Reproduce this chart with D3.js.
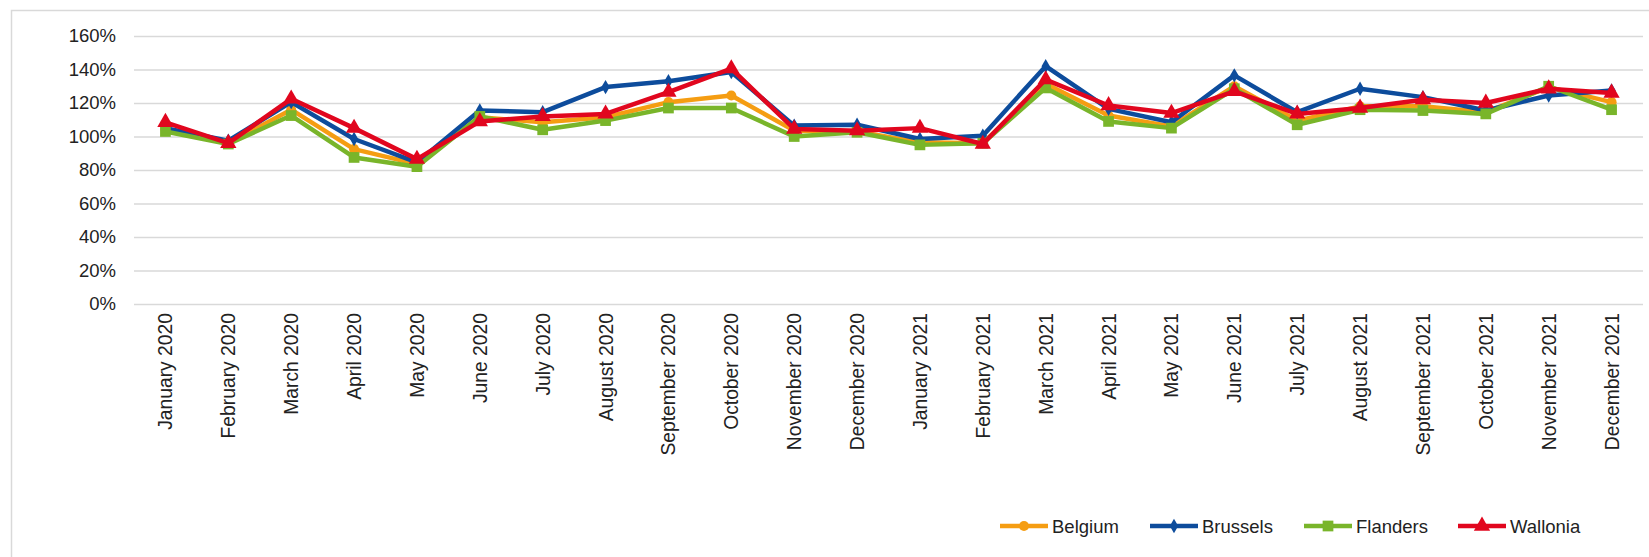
<!DOCTYPE html>
<html><head><meta charset="utf-8">
<script src="https://cdn.jsdelivr.net/npm/d3@7/dist/d3.min.js"></script>
<style>
html,body{margin:0;padding:0;background:#fff;}
svg text{font-family:"Liberation Sans",Arial,sans-serif;fill:#222;}
</style></head>
<body><svg id="c" width="1649" height="557"></svg>
<script>
const months = ["January 2020","February 2020","March 2020","April 2020","May 2020","June 2020","July 2020","August 2020","September 2020","October 2020","November 2020","December 2020","January 2021","February 2021","March 2021","April 2021","May 2021","June 2021","July 2021","August 2021","September 2021","October 2021","November 2021","December 2021"];
const belgium  = [1.045,0.96,1.16,0.925,0.835,1.115,1.085,1.115,1.205,1.245,1.035,1.03,0.965,0.96,1.315,1.125,1.06,1.30,1.095,1.18,1.18,1.145,1.295,1.205];
const brussels = [1.05,0.975,1.205,0.985,0.845,1.155,1.145,1.295,1.33,1.385,1.065,1.07,0.985,1.005,1.42,1.165,1.085,1.365,1.145,1.285,1.235,1.155,1.245,1.275];
const flanders = [1.03,0.955,1.125,0.875,0.82,1.12,1.04,1.095,1.17,1.17,1.00,1.025,0.95,0.96,1.29,1.09,1.05,1.285,1.07,1.16,1.155,1.135,1.30,1.16];
const wallonia = [1.085,0.96,1.225,1.05,0.865,1.09,1.12,1.135,1.265,1.405,1.045,1.035,1.05,0.955,1.34,1.185,1.14,1.27,1.135,1.17,1.22,1.20,1.285,1.26];
const yTicks = [0,0.2,0.4,0.6,0.8,1.0,1.2,1.4,1.6];
const seriesNames = ["Belgium","Brussels","Flanders","Wallonia"];
const seriesColors = ["#F59D12","#0D4C9C","#79B52A","#E1061E"];
const seriesSymbols = [d3.symbolCircle, d3.symbolDiamond, d3.symbolSquare, d3.symbolTriangle];
const symbolSizes = [80, 60, 115, 115];
const seriesValues = [belgium, brussels, flanders, wallonia];

const svg = d3.select("#c");
// outer frame
svg.append("rect").attr("x",11.5).attr("y",10.5).attr("width",1700).attr("height",700)
  .attr("fill","none").attr("stroke","#d9d9d9").attr("stroke-width",1.5);

const L=134, R=1643, T=36, B=304;
const x = d3.scaleBand().domain(months).range([L,R]);
const y = d3.scaleLinear().domain([0,1.6]).range([B,T]);

// grid
const yAxis = d3.axisLeft(y).tickValues(yTicks).tickFormat(d3.format(".0%")).tickSize(-(R-L)).tickPadding(18);
const gy = svg.append("g").attr("transform",`translate(${L},0)`).call(yAxis);
gy.select(".domain").remove();
gy.selectAll(".tick line").attr("stroke","#d9d9d9").attr("stroke-width",1.6);
gy.selectAll(".tick text").style("font-size","18.5px").attr("fill","#222");

// x labels
const xAxis = d3.axisBottom(x).tickSize(0).tickPadding(0);
const gx = svg.append("g").attr("transform",`translate(0,${B})`).call(xAxis);
gx.select(".domain").remove();
gx.selectAll(".tick text").style("font-size","19.3px").attr("fill","#222")
  .attr("text-anchor","end").attr("transform","translate(0,9) rotate(-90)")
  .attr("x",0).attr("y",0).attr("dy","0.36em");

const line = d3.line().x((d,i)=>x(months[i])+x.bandwidth()/2).y(d=>y(d));
seriesValues.forEach((vals,si)=>{
  const g = svg.append("g");
  g.append("path").datum(vals).attr("d",line).attr("fill","none")
    .attr("stroke",seriesColors[si]).attr("stroke-width",4.5).attr("stroke-linejoin","round");
  g.selectAll("path.m").data(vals).join("path").attr("class","m")
    .attr("d",d3.symbol().type(seriesSymbols[si]).size(symbolSizes[si]))
    .attr("transform",(d,i)=>`translate(${x(months[i])+x.bandwidth()/2},${y(d)})`)
    .attr("fill",seriesColors[si]);
});

// legend
const legX = [1000,1150,1304,1458];
const legY = 526;
seriesNames.forEach((n,si)=>{
  const g = svg.append("g").attr("transform",`translate(${legX[si]},${legY})`);
  g.append("line").attr("x1",0).attr("x2",48).attr("y1",0).attr("y2",0)
    .attr("stroke",seriesColors[si]).attr("stroke-width",4.5);
  g.append("path").attr("d",d3.symbol().type(seriesSymbols[si]).size(symbolSizes[si]))
    .attr("transform","translate(24,0)").attr("fill",seriesColors[si]);
  g.append("text").attr("x",52).attr("y",0).attr("dy","0.36em").style("font-size","18.5px").text(n);
});
</script></body></html>
